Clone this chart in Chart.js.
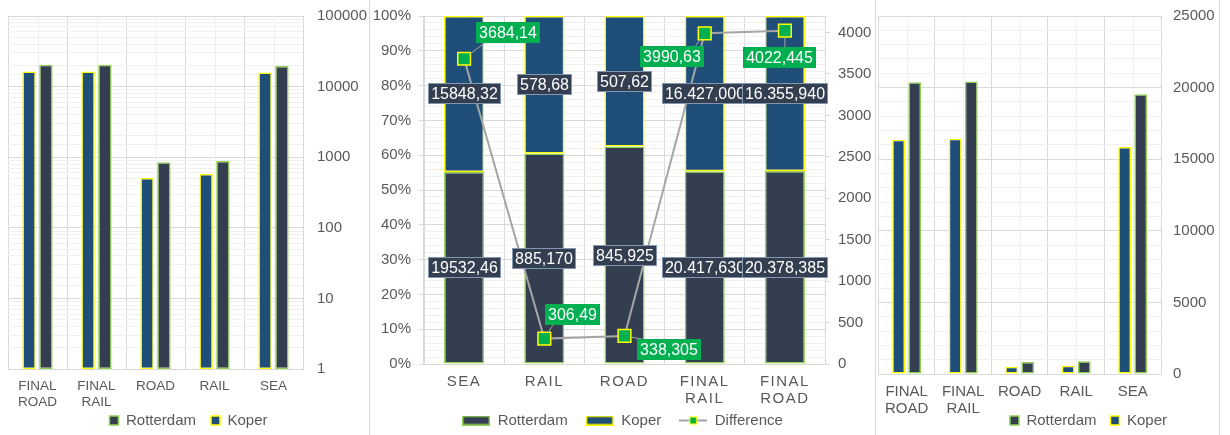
<!DOCTYPE html>
<html>
<head>
<meta charset="utf-8">
<script src="https://cdn.jsdelivr.net/npm/chart.js"></script>
<style>
  html, body { margin: 0; padding: 0; background: #fff; width: 1230px; height: 435px; overflow: hidden; }
  .panel { position: absolute; top: 0; height: 438px; }
  .sep { position: absolute; top: 0; width: 1px; height: 435px; background: #D9D9D9; }
</style>
</head>
<body>
<div class="panel" style="left:0;width:369px"><canvas id="logChart"></canvas></div>
<div class="sep" style="left:369px"></div>
<div class="panel" style="left:370px;width:505px"><canvas id="shareChart"></canvas></div>
<div class="sep" style="left:875px"></div>
<div class="panel" style="left:876px;width:343px"><canvas id="linChart"></canvas></div>
<div class="sep" style="left:1219px"></div>

<script>
// data (order of the two side charts)
const modes = [['FINAL', 'ROAD'], ['FINAL', 'RAIL'], 'ROAD', 'RAIL', 'SEA'];
const rotterdam = [20378.385, 20417.63, 845.925, 885.17, 19532.46];
const koper = [16355.94, 16427, 507.62, 578.68, 15848.32];
const difference = [4022.445, 3990.63, 338.305, 306.49, 3684.14];
const rotterdamText = ['20.378,385', '20.417,630', '845,925', '885,170', '19532,46'];
const koperText = ['16.355,940', '16.427,000', '507,62', '578,68', '15848,32'];
const differenceText = ['4022,445', '3990,63', '338,305', '306,49', '3684,14'];

// tick labels
const logTicks = [1, 10, 100, 1000, 10000, 100000];
const pctTicks = [0, 10, 20, 30, 40, 50, 60, 70, 80, 90, 100];
const diffTicks = [0, 500, 1000, 1500, 2000, 2500, 3000, 3500, 4000];
const linTicks = [0, 5000, 10000, 15000, 20000, 25000];

const FONT = '"Liberation Sans", Arial, sans-serif';
const TEXT = '#595959';
const GRID = '#D9D9D9';
const MINOR = '#F0F0F0';
const NONE = 'rgba(0,0,0,0)';
const ROT_FILL = '#333F50', ROT_LINE = '#92D050';
const KOP_FILL = '#1F4E79', KOP_LINE = '#FFFF00';
const DIFF_LINE = '#A5A5A5', DIFF_FILL = '#00B050';

Chart.defaults.font.family = FONT;
Chart.defaults.color = TEXT;
Chart.defaults.animation = false;

// light vertical lines through the middle of each category
const centerLines = {
  id: 'centerLines',
  beforeDatasetsDraw(chart) {
    const { ctx, chartArea, scales: { x } } = chart;
    ctx.save();
    ctx.strokeStyle = MINOR;
    ctx.lineWidth = 1;
    chart.data.labels.forEach((l, i) => {
      const px = Math.round(x.getPixelForValue(i)) + 0.5;
      ctx.beginPath();
      ctx.moveTo(px, chartArea.top);
      ctx.lineTo(px, chartArea.bottom);
      ctx.stroke();
    });
    ctx.restore();
  }
};

// let two-line category labels run below the x axis box
const freeTicks = {
  id: 'freeTicks',
  afterLayout(chart) {
    chart.scales.x._computeLabelArea = () => undefined;
  }
};

const sideDatasets = () => [
  { label: 'Koper', data: koper, backgroundColor: KOP_FILL, borderColor: KOP_LINE, borderWidth: 1.5,
    borderSkipped: false, categoryPercentage: 0.57, barPercentage: 0.8 },
  { label: 'Rotterdam', data: rotterdam, backgroundColor: ROT_FILL, borderColor: ROT_LINE, borderWidth: 1.5,
    borderSkipped: false, categoryPercentage: 0.57, barPercentage: 0.8 }
];

// left: log scale
new Chart(document.getElementById('logChart'), {
  type: 'bar',
  data: { labels: modes, datasets: sideDatasets() },
  options: {
    responsive: true,
    maintainAspectRatio: false,
    layout: { padding: { top: 16, left: 8 } },
    plugins: {
      legend: { position: 'bottom', reverse: true,
        labels: { boxWidth: 9, boxHeight: 9, padding: 15, font: { size: 15 } } },
      tooltip: { enabled: false }
    },
    scales: {
      x: {
        grid: { color: GRID, drawTicks: false },
        border: { color: GRID },
        ticks: { font: { size: 13.5, lineHeight: 1.15 }, padding: 10, maxRotation: 0, autoSkip: false },
        afterFit: s => { s.height = 29; }
      },
      y: {
        type: 'logarithmic', position: 'right', min: 1, max: 100000,
        grid: { color: c => logTicks.includes(c.tick.value) ? GRID : MINOR, tickColor: NONE, tickLength: 10 },
        border: { color: GRID },
        ticks: { font: { size: 15, lineHeight: 1 }, padding: 4, autoSkip: false,
          callback: v => logTicks.includes(v) ? String(v) : '' },
        afterFit: s => { s.width = 66; }
      }
    }
  },
  plugins: [centerLines, freeTicks]
});

// middle: 100% stacked with difference line
const order2 = modes.map((m, i) => i).reverse();
const modes2 = order2.map(i => modes[i]);
const rot2 = order2.map(i => rotterdam[i]);
const kop2 = order2.map(i => koper[i]);
const diff2 = order2.map(i => difference[i]);
const rotText2 = order2.map(i => rotterdamText[i]);
const kopText2 = order2.map(i => koperText[i]);
const diffText2 = order2.map(i => differenceText[i]);
const rotShare = rot2.map((v, i) => v / (v + kop2[i]) * 100);
const kopShare = kop2.map((v, i) => v / (rot2[i] + v) * 100);
const tagOffsets = [[44, -26], [28, -24], [44, 14], [-33, 23], [-5, 27]];

function legendImage(kind) {
  const c = document.createElement('canvas');
  c.width = 28; c.height = 10;
  const g = c.getContext('2d');
  if (kind === 'line') {
    g.strokeStyle = DIFF_LINE; g.lineWidth = 2;
    g.beginPath(); g.moveTo(0, 5); g.lineTo(28, 5); g.stroke();
    g.fillStyle = DIFF_FILL; g.fillRect(10, 1, 8, 8);
    g.strokeStyle = KOP_LINE; g.lineWidth = 1.2; g.strokeRect(10.5, 1.5, 7, 7);
  } else {
    const [fill, line] = kind === 'rot' ? [ROT_FILL, ROT_LINE] : [KOP_FILL, KOP_LINE];
    g.fillStyle = fill; g.fillRect(0, 0, 28, 10);
    g.strokeStyle = line; g.lineWidth = 1.5; g.strokeRect(0.75, 0.75, 26.5, 8.5);
  }
  return c;
}

const spacedTicks = {
  id: 'spacedTicks',
  afterLayout(chart) {
    const s = chart.scales.x;
    if (s._spaced) return;
    const draw = s.drawLabels;
    s.drawLabels = function (area) {
      this.ctx.save();
      this.ctx.letterSpacing = '1.5px';
      draw.call(this, area);
      this.ctx.restore();
    };
    s._spaced = true;
  }
};

const boxLabels = {
  id: 'boxLabels',
  afterDatasetsDraw(chart) {
    const ctx = chart.ctx;
    ctx.save();
    ctx.font = '16px ' + FONT;
    ctx.textAlign = 'center';
    ctx.textBaseline = 'middle';
    const tag = (text, cx, cy, fill, edge) => {
      const w = Math.round(ctx.measureText(text).width + 6), h = 21;
      const x0 = Math.round(cx - w / 2), y0 = Math.round(cy - h / 2);
      ctx.fillStyle = fill;
      ctx.fillRect(x0, y0, w, h);
      if (edge) {
        ctx.strokeStyle = edge; ctx.lineWidth = 1;
        ctx.strokeRect(x0 + 0.5, y0 + 0.5, w - 1, h - 1);
      }
      ctx.fillStyle = '#fff';
      ctx.fillText(text, x0 + w / 2, y0 + h / 2 + 1);
    };
    [rotText2, kopText2].forEach((texts, di) => {
      chart.getDatasetMeta(di).data.forEach((bar, i) => {
        tag(texts[i], bar.x, (bar.y + bar.base) / 2, ROT_FILL, '#8497B0');
      });
    });
    chart.getDatasetMeta(2).data.forEach((pt, i) => {
      const text = diffText2[i];
      const cx = pt.x + tagOffsets[i][0], cy = pt.y + tagOffsets[i][1];
      const w = ctx.measureText(text).width + 6, h = 21;
      const left = cx - w / 2, right = cx + w / 2, top = cy - h / 2, bottom = cy + h / 2;
      let tx, ty;
      if (pt.y < top || pt.y > bottom) {
        tx = Math.min(Math.max(pt.x, left + 8), right - 8);
        ty = pt.y < top ? top : bottom;
      } else {
        tx = pt.x < left ? left : right;
        ty = cy;
      }
      const len = Math.hypot(tx - pt.x, ty - pt.y) || 1;
      ctx.strokeStyle = DIFF_LINE; ctx.lineWidth = 1;
      ctx.beginPath();
      ctx.moveTo(pt.x + (tx - pt.x) / len * 7, pt.y + (ty - pt.y) / len * 7);
      ctx.lineTo(tx, ty);
      ctx.stroke();
      tag(text, cx, cy, DIFF_FILL, null);
    });
    ctx.restore();
  }
};

new Chart(document.getElementById('shareChart'), {
  type: 'bar',
  data: {
    labels: modes2,
    datasets: [
      { label: 'Rotterdam', data: rotShare, backgroundColor: ROT_FILL, borderColor: ROT_LINE, borderWidth: 1.5,
        borderSkipped: false, barPercentage: 0.5, categoryPercentage: 1, order: 1 },
      { label: 'Koper', data: kopShare, backgroundColor: KOP_FILL, borderColor: KOP_LINE, borderWidth: 1.5,
        borderSkipped: false, barPercentage: 0.5, categoryPercentage: 1, order: 1 },
      { type: 'line', label: 'Difference', data: diff2, yAxisID: 'y1', order: 0,
        borderColor: DIFF_LINE, borderWidth: 2, pointStyle: 'rect', pointRadius: 9,
        pointBackgroundColor: DIFF_FILL, pointBorderColor: KOP_LINE, pointBorderWidth: 1.5 }
    ]
  },
  options: {
    responsive: true,
    maintainAspectRatio: false,
    layout: { padding: { top: 16 } },
    plugins: {
      legend: {
        position: 'bottom',
        labels: {
          usePointStyle: true, pointStyleWidth: 28, boxHeight: 10, padding: 18, font: { size: 15 },
          generateLabels: () => [
            { text: 'Rotterdam', pointStyle: legendImage('rot'), datasetIndex: 0 },
            { text: 'Koper', pointStyle: legendImage('kop'), datasetIndex: 1 },
            { text: 'Difference', pointStyle: legendImage('line'), datasetIndex: 2 }
          ].map(it => Object.assign(it, { fontColor: TEXT, hidden: false, lineWidth: 0,
            strokeStyle: NONE, fillStyle: NONE }))
        }
      },
      tooltip: { enabled: false }
    },
    scales: {
      x: {
        stacked: true,
        grid: { color: GRID, drawTicks: false },
        border: { color: GRID },
        ticks: { font: { size: 15, lineHeight: 1.13 }, padding: 9, maxRotation: 0, autoSkip: false },
        afterFit: s => { s.height = 31; }
      },
      y: {
        stacked: true, position: 'left', min: 0, max: 100,
        grid: { color: c => pctTicks.includes(c.tick.value) ? GRID : MINOR,
          tickColor: c => pctTicks.includes(c.tick.value) ? GRID : NONE, tickLength: 5 },
        border: { color: GRID },
        ticks: { stepSize: 2, autoSkip: false, padding: 8, font: { size: 15, lineHeight: 1 },
          callback: v => pctTicks.includes(v) ? v + '%' : '' },
        afterFit: s => { s.width = 54; }
      },
      y1: {
        position: 'right', min: 0, max: 4200,
        grid: { drawOnChartArea: false, color: GRID, tickLength: 5 },
        border: { color: GRID },
        ticks: { padding: 8, font: { size: 15, lineHeight: 1 }, autoSkip: false, callback: v => String(v) },
        afterBuildTicks: s => { s.ticks = diffTicks.map(v => ({ value: v })); },
        afterFit: s => { s.width = 50; }
      }
    }
  },
  plugins: [spacedTicks, freeTicks, boxLabels]
});

// right: linear scale
const legendShift = {
  id: 'legendShift',
  afterLayout(chart) {
    chart.legend.left += 20;
    chart.legend.right += 20;
  }
};

new Chart(document.getElementById('linChart'), {
  type: 'bar',
  data: { labels: modes, datasets: sideDatasets() },
  options: {
    responsive: true,
    maintainAspectRatio: false,
    layout: { padding: { top: 16 } },
    plugins: {
      legend: { position: 'bottom', reverse: true, fullSize: false, align: 'end',
        labels: { boxWidth: 9, boxHeight: 9, padding: 14, font: { size: 15 } } },
      tooltip: { enabled: false }
    },
    scales: {
      x: {
        grid: { color: GRID, drawTicks: false },
        border: { color: GRID },
        ticks: { font: { size: 15, lineHeight: 1.13 }, padding: 9, maxRotation: 0, autoSkip: false },
        afterFit: s => { s.height = 25; }
      },
      y: {
        position: 'right', min: 0, max: 25000,
        grid: { color: c => linTicks.includes(c.tick.value) ? GRID : MINOR, tickColor: NONE, tickLength: 8 },
        border: { color: GRID },
        ticks: { stepSize: 1000, autoSkip: false, padding: 4, font: { size: 15, lineHeight: 1 },
          callback: v => linTicks.includes(v) ? String(v) : '' },
        afterFit: s => { s.width = 58; }
      }
    }
  },
  plugins: [centerLines, freeTicks, legendShift]
});
</script>
</body>
</html>
